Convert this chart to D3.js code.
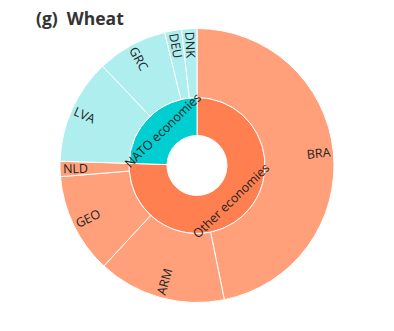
<!DOCTYPE html>
<html><head><meta charset="utf-8">
<script src="https://cdn.jsdelivr.net/npm/d3@7"></script>
<style>body{margin:0;background:#fff} text{white-space:pre}</style>
</head><body>
<svg id="c" width="394" height="331"></svg>
<script>
const title = "(g)  Wheat";
const groups = ["Other economies", "NATO economies"];
const groupColors = ["#FF7F50", "#00CED1"];
const leafColors = ["#FFA07A", "#AFEEEE"];
const countries = ["BRA", "ARM", "GEO", "NLD", "LVA", "GRC", "DEU", "DNK"];
const countryGroup = ["Other economies","Other economies","Other economies","Other economies","NATO economies","NATO economies","NATO economies","NATO economies"];
const values = [46.8, 15.1, 11.8, 1.8, 12.4, 8.3, 2.0, 1.8];

const svg = d3.select("#c");
svg.append("text").attr("x", 36).attr("y", 25)
  .attr("font-family", "'Open Sans', sans-serif").attr("font-weight", "bold")
  .attr("font-size", 17.5).attr("fill", "#333").text(title);

const cx = 197, cy = 165.5;
const radii = [0, 30, 68, 137];

const rootData = {name: "root", children: groups.map(g => ({
  name: g,
  children: countries.map((c, i) => ({name: c, value: values[i], g: countryGroup[i]})).filter(d => d.g === g)
}))};
const root = d3.hierarchy(rootData).sum(d => d.value || 0);
d3.partition().size([2 * Math.PI, 3])(root);

const colorOf = d => {
  const gi = groups.indexOf(d.depth === 1 ? d.data.name : d.parent.data.name);
  return d.depth === 1 ? groupColors[gi] : leafColors[gi];
};

const arc = d3.arc()
  .startAngle(d => d.x0).endAngle(d => d.x1)
  .innerRadius(d => radii[d.depth]).outerRadius(d => radii[d.depth + 1]);

const g = svg.append("g").attr("transform", `translate(${cx},${cy})`);
const nodes = root.descendants().filter(d => d.depth > 0);
g.selectAll("path").data(nodes).join("path")
  .attr("d", arc).attr("fill", colorOf)
  .attr("stroke", "#fff").attr("stroke-width", 1);

const font = "'Open Sans', sans-serif";
// leaf labels (radial)
nodes.filter(d => d.depth === 2).forEach(d => {
  const a = (d.x0 + d.x1) / 2 * 180 / Math.PI;
  const r = 134;
  const rad = a * Math.PI / 180;
  const x = r * Math.sin(rad), y = -r * Math.cos(rad);
  const left = a > 180;
  const rot = left ? a + 90 : a - 90;
  g.append("text").attr("transform", `translate(${x},${y}) rotate(${rot})`)
    .attr("text-anchor", left ? "start" : "end")
    .attr("dominant-baseline", "central")
    .attr("font-family", font).attr("font-size", 12.5).attr("fill", "#222")
    .text(d.data.name);
});
// group labels (tangential)
nodes.filter(d => d.depth === 1).forEach(d => {
  const a = (d.x0 + d.x1) / 2 * 180 / Math.PI;
  const r = 49;
  const rad = a * Math.PI / 180;
  const x = r * Math.sin(rad), y = -r * Math.cos(rad);
  const rot = (a > 90 && a < 270) ? a - 180 : a;
  g.append("text").attr("transform", `translate(${x},${y}) rotate(${rot})`)
    .attr("text-anchor", "middle").attr("dominant-baseline", "central")
    .attr("font-family", font).attr("font-size", 12.5).attr("fill", "#222")
    .text(d.data.name);
});
</script>
</body></html>
